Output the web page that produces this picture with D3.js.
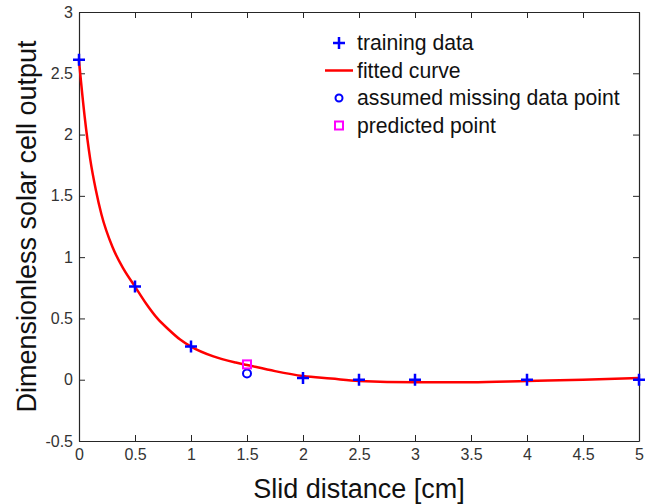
<!DOCTYPE html>
<html>
<head>
<meta charset="utf-8">
<script src="https://cdn.jsdelivr.net/npm/d3@7"></script>
<style>
  body { margin: 0; background: #fff; }
  text { font-family: "Liberation Sans", Arial, sans-serif; }
</style>
</head>
<body>
<div id="chart"></div>
<script>
const width = 652;
const height = 504;

// training data (x = 1.5 left out)
const trainX = [0, 0.5, 1, 2, 2.5, 3, 4, 5];
const trainY = [2.61, 0.76, 0.27, 0.015, 0.0, 0.0, 0.0, 0.0];

// fitted curve
const curveX = [0, 0.05, 0.1, 0.15, 0.2, 0.3, 0.4, 0.5, 0.6, 0.7, 0.8, 0.9, 1.0, 1.2, 1.4, 1.5, 1.75, 2.0, 2.25, 2.5, 3.0, 3.5, 4.0, 4.5, 5.0];
const curveY = [2.60, 2.15, 1.80, 1.55, 1.35, 1.08, 0.90, 0.76, 0.62, 0.50, 0.41, 0.33, 0.27, 0.19, 0.14, 0.12, 0.07, 0.03, 0.01, -0.01, -0.02, -0.02, -0.01, 0.0, 0.015];

const missingX = [1.5];
const missingY = [0.05];
const predictedX = [1.5];
const predictedY = [0.125];

const xTicks = [0, 0.5, 1, 1.5, 2, 2.5, 3, 3.5, 4, 4.5, 5];
const yTicks = [-0.5, 0, 0.5, 1, 1.5, 2, 2.5, 3];

const legendLabels = ["training data", "fitted curve", "assumed missing data point", "predicted point"];

const margin = {left: 79, right: 13, top: 12, bottom: 63};

const svg = d3.select("#chart")
    .append("svg")
        .attr("width", width)
        .attr("height", height)

const x = d3.scaleLinear().domain([0, 5]).range([margin.left, width - margin.right]);
const y = d3.scaleLinear().domain([-0.5, 3]).range([height - margin.bottom, margin.top]);

const axisColor = "#262626";
const tickLen = 6;
const fmt = d => String(d);

// axes (MATLAB style, ticks inward, box on)
svg.append("g")
    .attr("transform", "translate(0," + y(-0.5) + ")")
    .call(d3.axisBottom(x).tickValues(xTicks).tickSizeInner(-tickLen).tickSizeOuter(0).tickPadding(8).tickFormat(fmt))
svg.append("g")
    .attr("transform", "translate(" + x(0) + ",0)")
    .call(d3.axisLeft(y).tickValues(yTicks).tickSizeInner(-tickLen).tickSizeOuter(0).tickPadding(6).tickFormat(fmt))
svg.append("g")
    .attr("transform", "translate(0," + y(3) + ")")
    .call(d3.axisTop(x).tickValues(xTicks).tickSizeInner(-tickLen).tickSizeOuter(0).tickFormat(""))
svg.append("g")
    .attr("transform", "translate(" + x(5) + ",0)")
    .call(d3.axisRight(y).tickValues(yTicks).tickSizeInner(-tickLen).tickSizeOuter(0).tickFormat(""))

svg.selectAll(".domain").attr("stroke", axisColor).attr("stroke-width", 1.2)
svg.selectAll(".tick line").attr("stroke", axisColor)
svg.selectAll(".tick text").attr("font-size", 16).attr("fill", "#333")

// axis titles
svg.append("text")
    .attr("x", (x(0) + x(5)) / 2)
    .attr("y", 498)
    .attr("text-anchor", "middle")
    .attr("font-size", 27)
    .attr("fill", "#111")
    .text("Slid distance [cm]")

svg.append("text")
    .attr("transform", "translate(36," + (y(-0.5) + y(3)) / 2 + ") rotate(-90)")
    .attr("text-anchor", "middle")
    .attr("font-size", 27)
    .attr("fill", "#111")
    .text("Dimensionless solar cell output")

// fitted curve
const line = d3.line()
    .x(d => x(d[0]))
    .y(d => y(d[1]))
    .curve(d3.curveMonotoneX)

svg.append("path")
    .datum(d3.zip(curveX, curveY))
    .attr("d", line)
    .attr("fill", "none")
    .attr("stroke", "#f00")
    .attr("stroke-width", 2.5)

const plusPath = "M-6,0H6M0,-6V6";

// training points
svg.append("g")
    .selectAll("path")
    .data(d3.zip(trainX, trainY))
    .enter()
    .append("path")
    .attr("transform", d => "translate(" + x(d[0]) + "," + y(d[1]) + ")")
    .attr("d", plusPath)
    .attr("stroke", "#00f")
    .attr("stroke-width", 2.5)

// assumed missing point
svg.append("g")
    .selectAll("circle")
    .data(d3.zip(missingX, missingY))
    .enter()
    .append("circle")
    .attr("cx", d => x(d[0]))
    .attr("cy", d => y(d[1]))
    .attr("r", 4)
    .attr("fill", "none")
    .attr("stroke", "#00f")
    .attr("stroke-width", 2)

// predicted point
svg.append("g")
    .selectAll("rect")
    .data(d3.zip(predictedX, predictedY))
    .enter()
    .append("rect")
    .attr("x", d => x(d[0]) - 4)
    .attr("y", d => y(d[1]) - 4)
    .attr("width", 8)
    .attr("height", 8)
    .attr("fill", "none")
    .attr("stroke", "#f0f")
    .attr("stroke-width", 2)

// legend
const legend = svg.append("g").attr("transform", "translate(339,43)")
const rowGap = 27.5;

legend.append("path").attr("d", plusPath).attr("stroke", "#00f").attr("stroke-width", 2.5)
legend.append("line")
    .attr("x1", -14).attr("x2", 14)
    .attr("y1", rowGap).attr("y2", rowGap)
    .attr("stroke", "#f00").attr("stroke-width", 2.5)
legend.append("circle").attr("cy", rowGap * 2).attr("r", 3.5)
    .attr("fill", "none").attr("stroke", "#00f").attr("stroke-width", 2)
legend.append("rect").attr("x", -4).attr("y", rowGap * 3 - 4).attr("width", 8).attr("height", 8)
    .attr("fill", "none").attr("stroke", "#f0f").attr("stroke-width", 2)

legend.selectAll("text")
    .data(legendLabels)
    .enter()
    .append("text")
    .attr("x", 18)
    .attr("y", (d, i) => i * rowGap)
    .attr("dy", "0.35em")
    .attr("font-size", 21.2)
    .attr("fill", "#111")
    .text(d => d)
</script>
</body>
</html>
